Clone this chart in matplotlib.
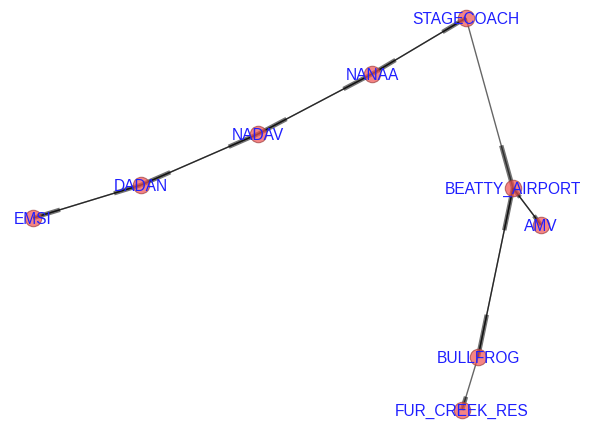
import numpy as np
import matplotlib.pyplot as plt
from matplotlib.collections import LineCollection

# node layout (pixel-like coordinates, y grows downward)
nodes = ["STAGECOACH", "NANAA", "NADAV", "DADAN", "EMSI",
         "BEATTY_AIRPORT", "AMV", "BULLFROG", "FUR_CREEK_RES"]
node_x = [466, 372, 258, 141, 33, 513, 541, 478, 462]
node_y = [18, 74, 134, 185, 218, 188, 225, 357, 410]

# directed edges (source, target)
edges = [
    ("STAGECOACH", "NANAA"), ("NANAA", "STAGECOACH"),
    ("NANAA", "NADAV"), ("NADAV", "NANAA"),
    ("NADAV", "DADAN"), ("DADAN", "NADAV"),
    ("DADAN", "EMSI"), ("EMSI", "DADAN"),
    ("STAGECOACH", "BEATTY_AIRPORT"),
    ("BEATTY_AIRPORT", "AMV"), ("AMV", "BEATTY_AIRPORT"),
    ("BEATTY_AIRPORT", "BULLFROG"), ("BULLFROG", "BEATTY_AIRPORT"),
    ("BULLFROG", "FUR_CREEK_RES"),
]


def main():
    pos = {n: (x, y) for n, x, y in zip(nodes, node_x, node_y)}

    fig = plt.figure(figsize=(5.92, 4.23), dpi=100)
    ax = fig.add_axes([0, 0, 1, 1])
    ax.set_xlim(0, 592)
    ax.set_ylim(423, 0)
    ax.axis("off")

    segs = [(pos[s], pos[t]) for s, t in edges]
    ax.add_collection(LineCollection(segs, colors="k", linewidths=1.0,
                                     alpha=0.6, zorder=1))

    # old networkx style: thick segment on the last quarter of each edge
    heads = []
    for (x1, y1), (x2, y2) in segs:
        xa = x1 + 0.75 * (x2 - x1)
        ya = y1 + 0.75 * (y2 - y1)
        heads.append(((xa, ya), (x2, y2)))
    ax.add_collection(LineCollection(heads, colors="k", linewidths=3.2,
                                     alpha=0.55, zorder=1))

    ax.scatter(node_x, node_y, s=140, c="#f05050", alpha=0.7,
               edgecolors="#a04040", linewidths=0.8, zorder=2)

    for n in nodes:
        x, y = pos[n]
        ax.text(x, y, n, color="#1f1fff", fontsize=11.2, ha="center",
                va="center_baseline", family="Liberation Sans", zorder=3)

    fig.savefig("out.png", dpi=100)


if __name__ == '__main__':
    main()
